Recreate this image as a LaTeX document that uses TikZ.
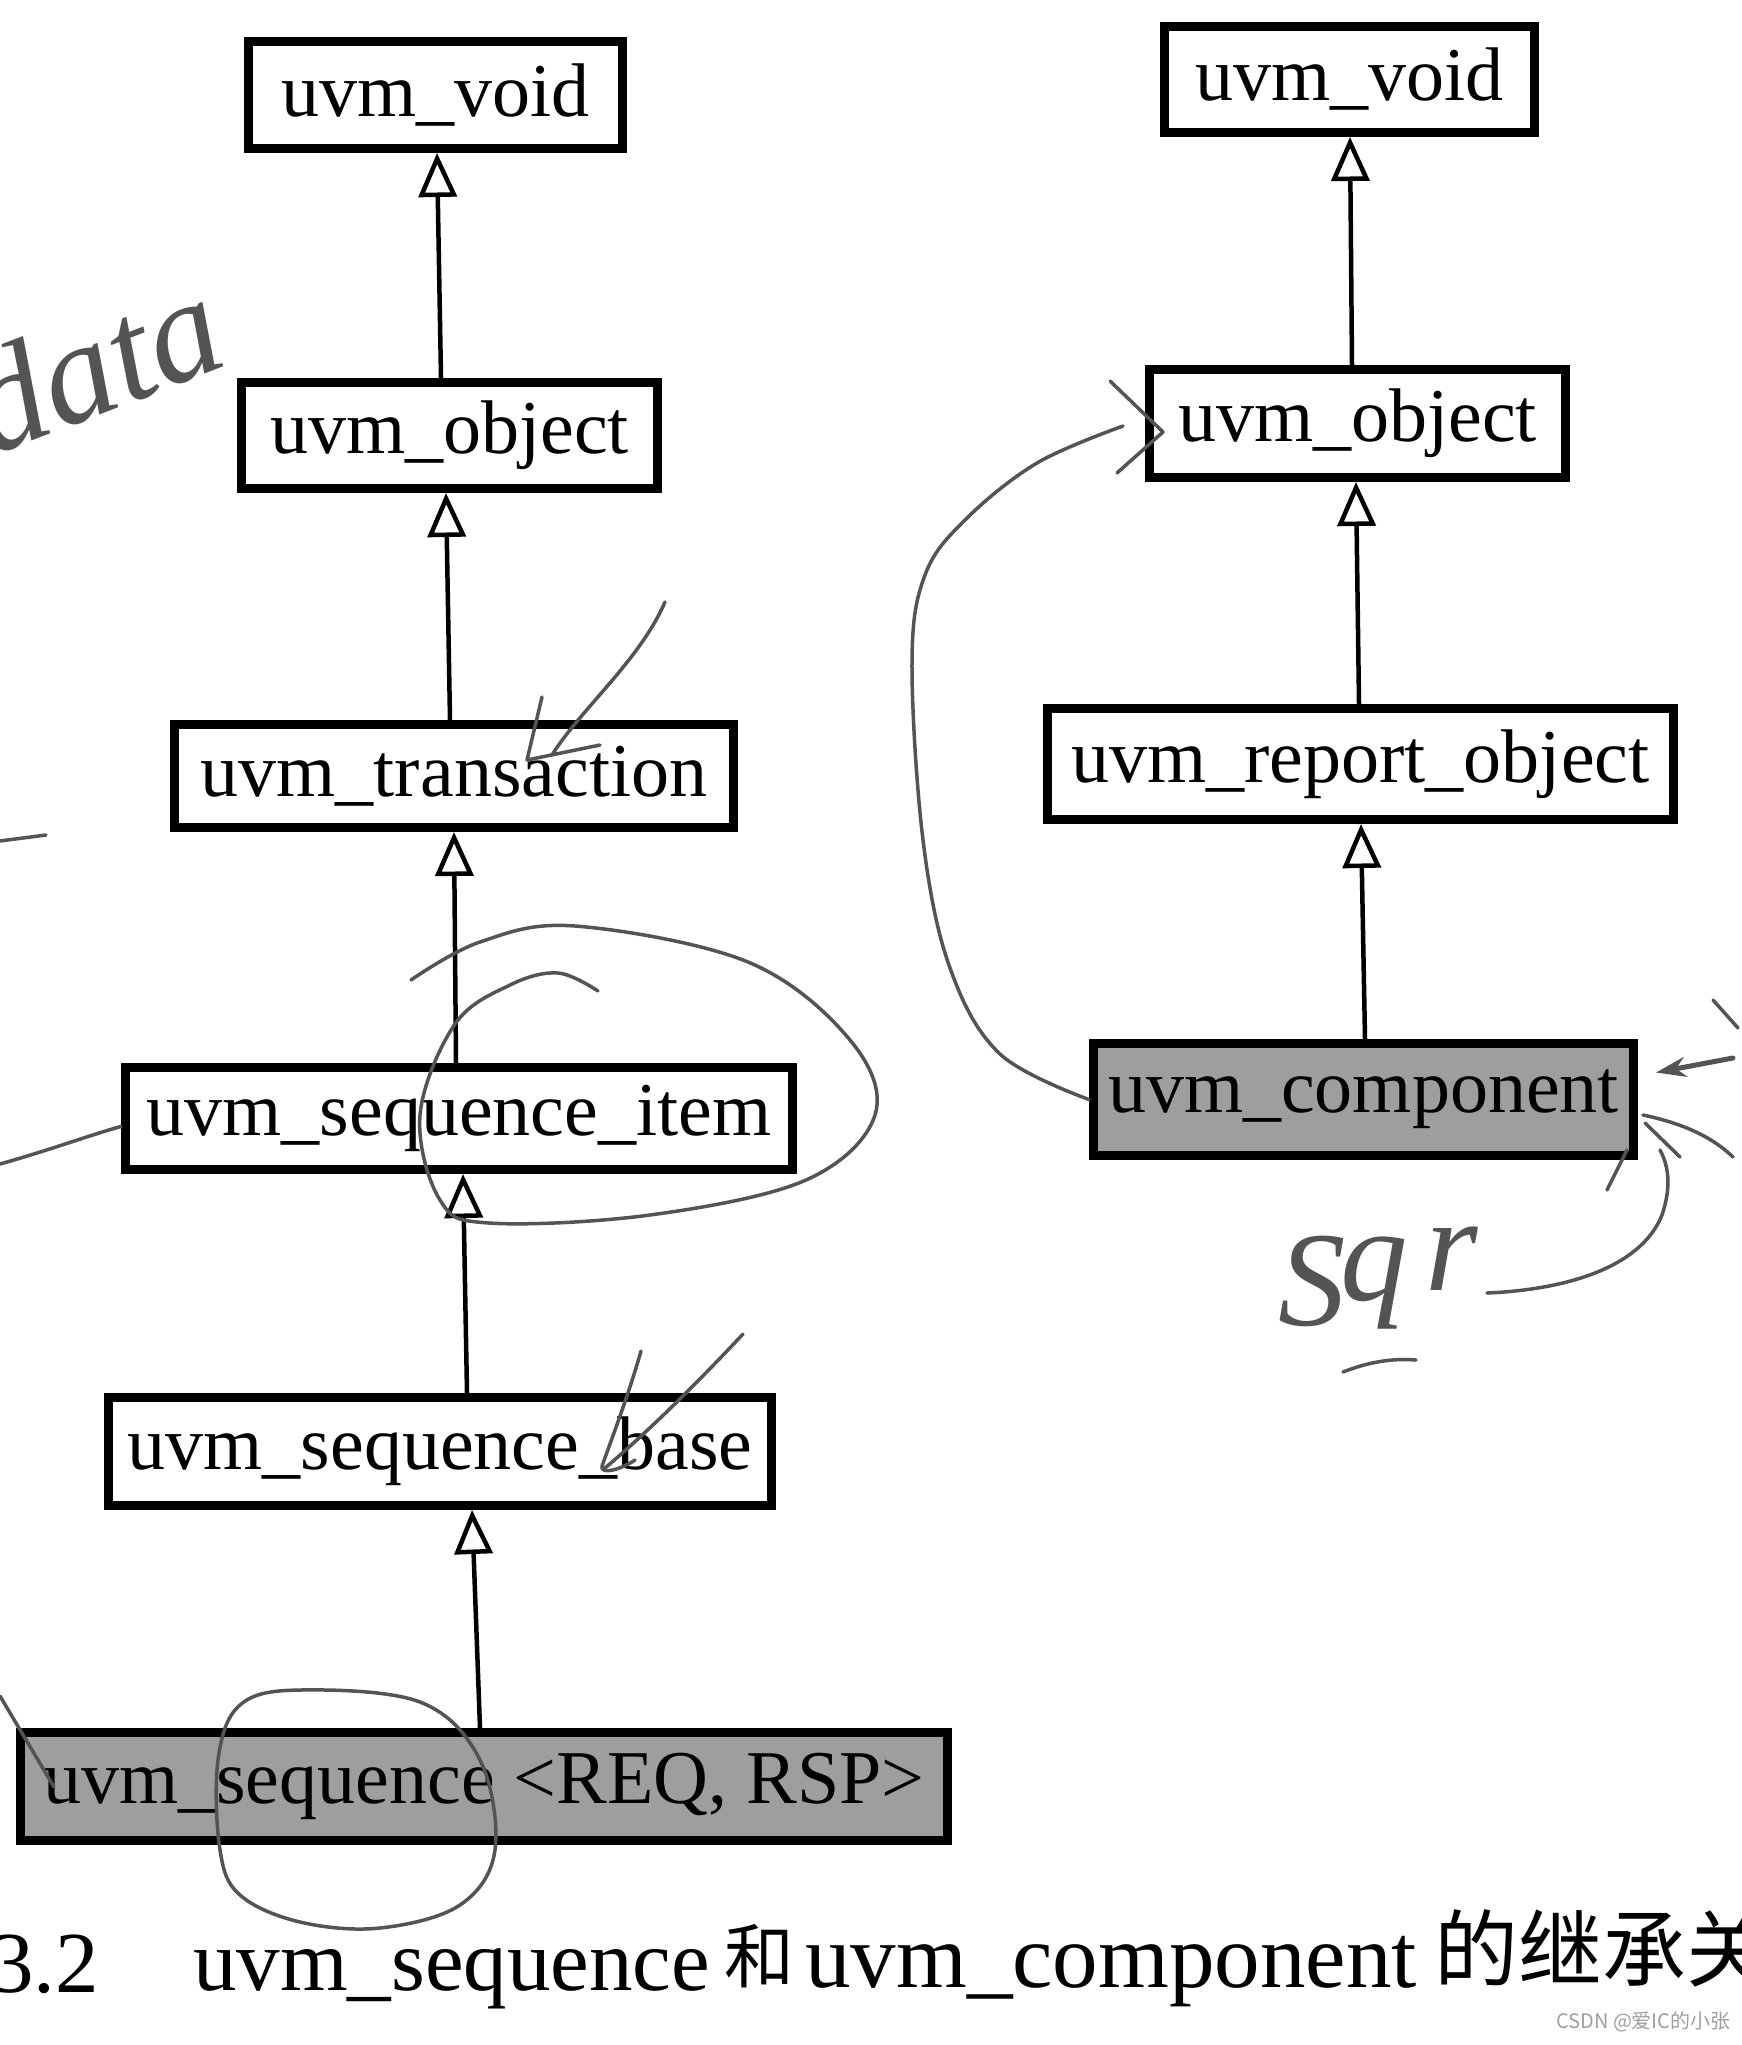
\documentclass[tikz,border=0pt]{standalone}
\usepackage{fontspec}
\setmainfont{Liberation Serif}
\newfontfamily\cjk{Noto Sans CJK SC}
\usetikzlibrary{arrows.meta}
\definecolor{boxgray}{gray}{0.62}
\definecolor{ink}{gray}{0.33}
\begin{document}
\begin{tikzpicture}[x=1pt,y=-1pt,
  cls/.style={draw, line width=9pt, inner sep=0pt, font=\fontsize{76}{80}\selectfont},
  inh/.style={line width=4.5pt, -{Triangle[open,length=44pt,width=38pt]}},
  hand/.style={draw=ink, line width=3.5pt, line cap=round, line join=round},
  handtext/.style={text=ink, inner sep=0pt, font=\itshape\fontsize{135}{135}\selectfont},
  capt/.style={anchor=base west, inner sep=0pt, font=\fontsize{87}{90}\selectfont}]
\fill[white] (0,0) rectangle (1742,2045);
\useasboundingbox (0,0) rectangle (1742,2045);
\clip (0,0) rectangle (1742,2045);

% left hierarchy
\node[cls, minimum width=374pt, minimum height=107pt] (lvoid) at (435.5,95) {uvm\_void};
\node[cls, minimum width=416pt, minimum height=106pt] (lobj) at (449.5,435.5) {uvm\_object};
\node[cls, minimum width=559pt, minimum height=103pt] (ltrans) at (454,776) {uvm\_transaction};
\node[cls, minimum width=667pt, minimum height=102pt] (litem) at (459,1118.5) {uvm\_sequence\_item};
\node[cls, minimum width=663pt, minimum height=108pt] (lbase) at (440,1451.5) {uvm\_sequence\_base};
\node[cls, fill=boxgray, minimum width=927pt, minimum height=108pt] (lseq) at (484,1786.5) {uvm\_sequence <REQ, RSP>};

% right hierarchy
\node[cls, minimum width=370pt, minimum height=106pt] (rvoid) at (1349.5,79.5) {uvm\_void};
\node[cls, minimum width=416pt, minimum height=108pt] (robj) at (1357.5,423.5) {uvm\_object};
\node[cls, minimum width=626pt, minimum height=111pt] (rrep) at (1360.5,764) {uvm\_report\_object};
\node[cls, fill=boxgray, minimum width=540pt, minimum height=112pt] (rcomp) at (1363.5,1099.5) {uvm\_component};

% inheritance connectors
\draw[inh] ([xshift=-8.5pt]lobj.north) -- ([xshift=1.5pt]lvoid.south);
\draw[inh] ([xshift=-4pt]ltrans.north) -- ([xshift=-3.5pt]lobj.south);
\draw[inh] ([xshift=-3pt]litem.north) -- (ltrans.south);
\draw[inh] ([xshift=27pt]lbase.north) -- ([xshift=4pt]litem.south);
\draw[inh] ([xshift=-4pt]lseq.north) -- ([xshift=32pt]lbase.south);
\draw[inh] ([xshift=-5.5pt]robj.north) -- ([xshift=0.5pt]rvoid.south);
\draw[inh] ([xshift=-1.5pt]rrep.north) -- ([xshift=-1.5pt]robj.south);
\draw[inh] ([xshift=1.5pt]rcomp.north) -- ([xshift=0.5pt]rrep.south);

% caption
\node[capt] (c1) at (-10,1992) {3.2};
\node[capt] (c2) at (193,1990) {uvm\_sequence};
\node[capt, font=\cjk\fontsize{70}{90}\selectfont] (c3) at (724,1982) {和};
\node[capt, font=\fontsize{91}{95}\selectfont] (c4) at (805,1987) {uvm\_component};
\node[capt, font=\cjk\fontsize{84}{90}\selectfont] (c5) at (1434,1980) {的继承关};
\node[anchor=base west, inner sep=0pt, text=gray!75, font=\cjk\fontsize{20}{22}\selectfont] (wm) at (1556,2028) {CSDN @爱IC的小张};

% handwritten notes
\node[handtext, rotate=21, anchor=base, font=\itshape\fontsize{145}{145}\selectfont] (data) at (112,410) {data};
\draw[hand] (0,841) -- (46,835);
\draw[hand] (665,602) .. controls (640,660) and (580,710) .. (552,755);
\draw[hand] (542,697) -- (527,760) -- (600,745);
\draw[hand] plot[smooth, tension=0.6] coordinates {(411,980) (480,942) (575,926) (748,962) (850,1040) (875,1115) (806,1180) (650,1215) (489,1223) (440,1200) (420,1115) (455,1024) (510,985) (558,973) (598,991)};
\draw[hand] (0,1164) .. controls (50,1150) and (90,1135) .. ([yshift=-8pt]litem.west);
\draw[hand] (641,1351) .. controls (630,1390) and (615,1430) .. (602,1466) .. controls (600,1475) and (620,1470) .. (635,1460);
\draw[hand] (743,1334) .. controls (700,1380) and (650,1430) .. (605,1468);
\draw[hand] plot[smooth cycle, tension=0.6] coordinates {(300,1690) (420,1702) (480,1760) (495,1850) (460,1905) (380,1928) (300,1922) (240,1895) (220,1850) (218,1760) (240,1705)};
\draw[hand] (0,1696) -- (54,1787);
\draw[hand] plot[smooth, tension=0.6] coordinates {(rcomp.west) (1000,1054) (950,968) (923,840) (912,662) (925,575) (965,520) (1037,463) (1123,426)};
\draw[hand] (1110,381) -- (1163,432) -- (1117,473);
\draw[hand, line width=5pt, -{Stealth[length=30pt,width=20pt]}] (1733,1058) -- ([xshift=18pt,yshift=27pt]rcomp.east);
\draw[hand] (1643,1115) .. controls (1690,1125) and (1715,1140) .. (1733,1157);
\draw[hand] (1645,1123) -- (1680,1157);
\draw[hand] (1627,1150) -- (1607,1190);
\draw[hand] (1487,1293) .. controls (1560,1290) and (1640,1270) .. (1662,1215) .. controls (1672,1185) and (1668,1165) .. (1660,1150);
\draw[hand] (1713,1000) -- (1738,1028);
\node[handtext, anchor=base west] (s1) at (1278,1325) {S};
\node[handtext, anchor=base west] (s2) at (1340,1300) {q};
\node[handtext, anchor=base west] (s3) at (1425,1290) {r};
\draw[hand] (1343,1372) .. controls (1368,1362) and (1393,1358) .. (1416,1360);
\end{tikzpicture}
\end{document}
